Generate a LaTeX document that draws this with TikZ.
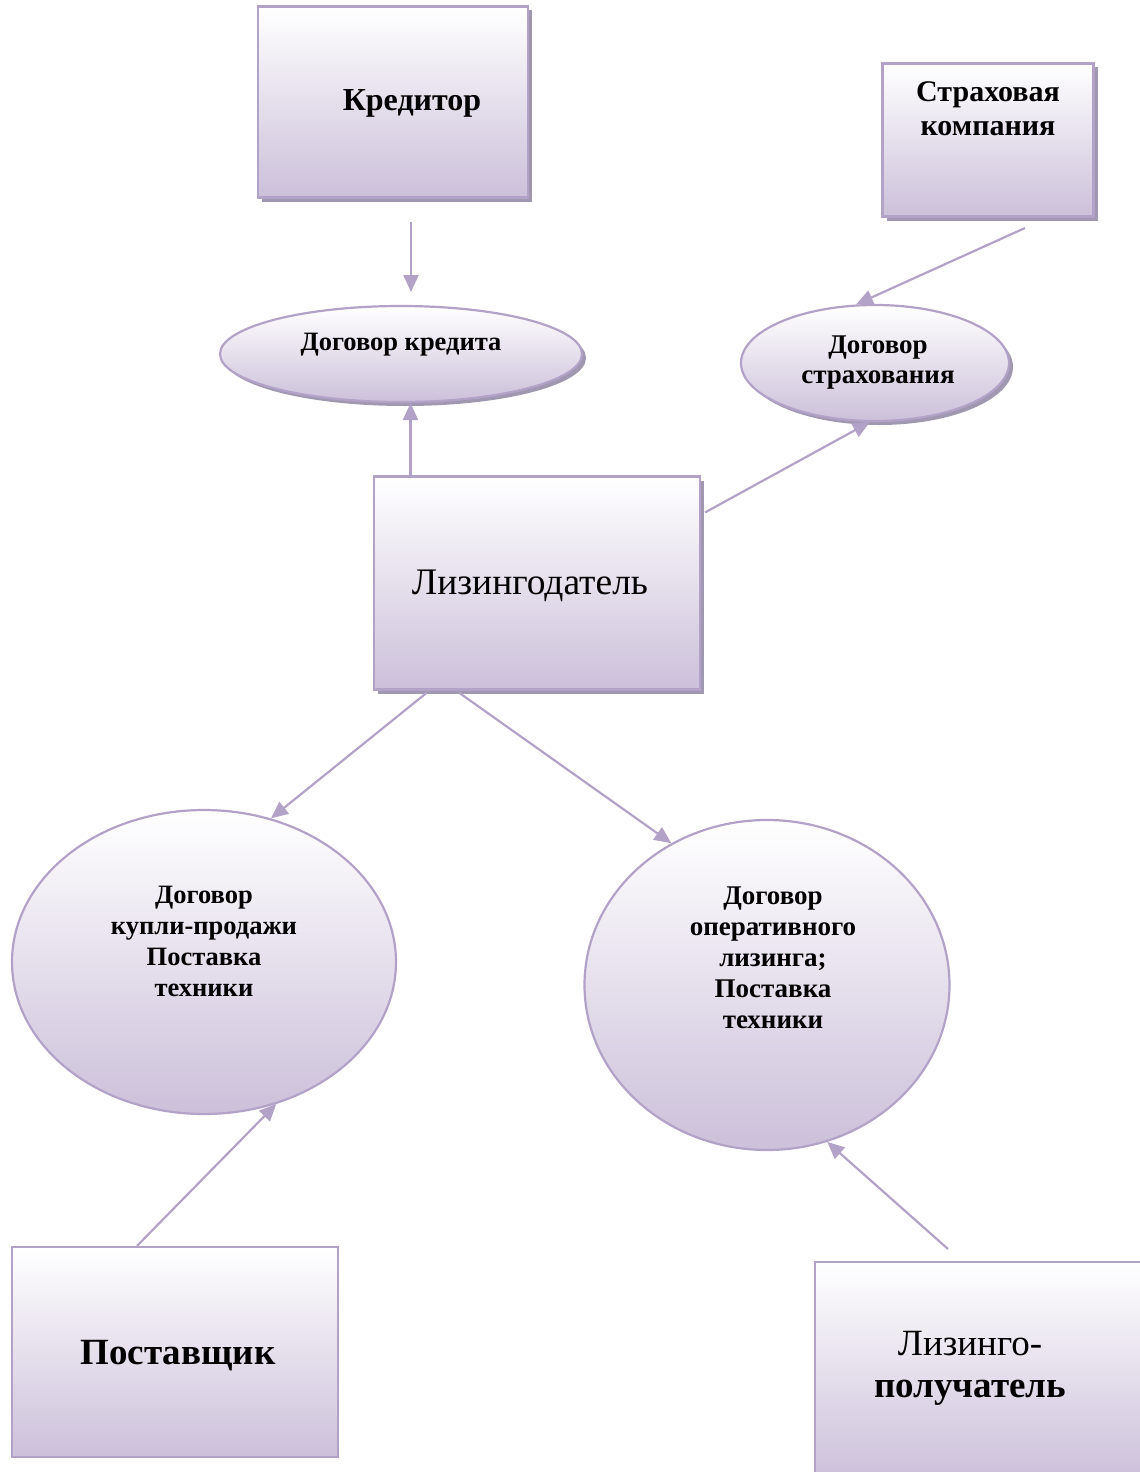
\documentclass[tikz,border=0pt]{standalone}
\usepackage{fontspec}
\setmainfont{Liberation Serif}
\usepackage{xcolor}
\usepackage{tikz}
\usetikzlibrary{arrows.meta, positioning, calc, shapes.geometric, shadows}
\definecolor{lilac}{RGB}{179,162,199}
\definecolor{lilacfill}{RGB}{204,192,218}
\definecolor{shadowc}{RGB}{160,152,176}

\begin{document}
\begin{tikzpicture}[x=1pt, y=-1pt,
    box/.style={draw=lilac, line width=2.2pt, top color=white, bottom color=lilacfill, inner sep=0pt, align=center},
    ell/.style={ellipse, draw=lilac, line width=2.2pt, top color=white, bottom color=lilacfill, inner sep=0pt, align=center},
    shd/.style={drop shadow={shadow xshift=4pt, shadow yshift=-4pt, opacity=1, fill=shadowc}},
    arr/.style={-{Triangle[length=17pt, width=15pt]}, lilac, line width=2.2pt}]
  \useasboundingbox (0,0) rectangle (1140,1472);
  % участники
  \node[box, shd, minimum width=270, minimum height=191,
        label={[font=\fontsize{32}{38}\selectfont\bfseries, xshift=19pt, yshift=-1pt]center:Кредитор}] (kred) at (393,102) {};
  \node[box, shd, minimum width=211, minimum height=153,
        label={[font=\fontsize{30}{34}\selectfont\bfseries, align=center, yshift=31pt]center:Страховая\\компания}] (strah) at (988,140) {};
  \node[box, shd, minimum width=326, minimum height=213,
        label={[font=\fontsize{37.5}{42}\selectfont, xshift=-7pt, yshift=-3pt]center:Лизингодатель}] (ldat) at (537,583) {};
  \node[box, minimum width=326, minimum height=210,
        label={[font=\fontsize{37}{42}\selectfont\bfseries, xshift=3pt, yshift=-4pt]center:Поставщик}] (post) at (175,1352) {};
  \node[box, minimum width=330, minimum height=218,
        label={[font=\fontsize{37}{42}\selectfont, align=center, yshift=3pt, xshift=-10pt]center:Лизинго-\\\textbf{получатель}}] (lpol) at (980,1371) {};
  % договоры
  \node[ell, shd, minimum width=362, minimum height=96,
        label={[font=\fontsize{26.5}{31}\selectfont\bfseries, yshift=9pt]center:Договор кредита}] (kd) at (401,354) {};
  \node[ell, shd, minimum width=268, minimum height=116,
        label={[font=\fontsize{27}{30}\selectfont\bfseries, align=center, xshift=3pt]center:Договор\\страхования}] (ds) at (875,363) {};
  \node[ell, minimum width=384, minimum height=304,
        label={[font=\fontsize{26.5}{31}\selectfont\bfseries, align=center, yshift=21pt]center:Договор\\купли-продажи\\Поставка\\техники}] (le) at (204,962) {};
  \node[ell, minimum width=365, minimum height=330,
        label={[font=\fontsize{27}{31}\selectfont\bfseries, align=center, yshift=27pt, xshift=6pt]center:Договор\\оперативного\\лизинга;\\Поставка\\техники}] (re) at (767,985) {};
  % свободные концы
  \coordinate (kredout) at (411,222);
  \coordinate (kdin) at (411,292);
  \coordinate (strahout) at (1025,228);
  \coordinate (lpolout) at (948,1249);
  % связи
  \draw[arr] (kredout) -- (kdin);
  \draw[arr] (ldat.north -| kd.-79) -- (kd.-79);
  \draw[arr] (strahout) -- (ds.108);
  \draw[arr] ($(ldat.north east)+(4,37)$) -- (ds.-95);
  \draw[arr] ($(ldat.south west)+(54,2)$) -- (le.65);
  \draw[arr] ($(ldat.south west)+(86,2)$) -- (re.124);
  \draw[arr] ($(post.north)+(-38,0)$) -- (le.-63);
  \draw[arr] (lpolout) -- (re.-69);
\end{tikzpicture}
\end{document}
